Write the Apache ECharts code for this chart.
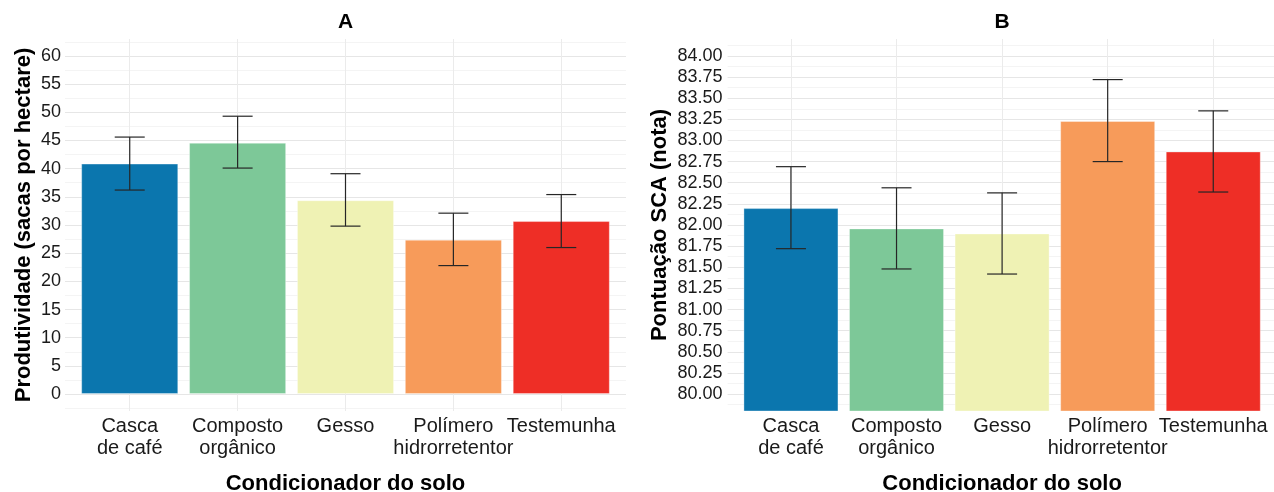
<!DOCTYPE html>
<html>
<head>
<meta charset="utf-8">
<script src="https://cdn.jsdelivr.net/npm/echarts@6/dist/echarts.min.js"></script>
<style>
  html, body { margin: 0; padding: 0; background: #ffffff; }
  #chart { width: 1274px; height: 492px; }
</style>
</head>
<body>
<div id="chart"></div>
<script>
// Soil conditioner treatments (x categories)
const categories = ['Casca\nde café', 'Composto\norgânico', 'Gesso', 'Polímero\nhidrorretentor', 'Testemunha'];
const barColors = ['#0b76ae', '#7dc898', '#eff2b4', '#f79b5a', '#ee2e26'];

// Panel A: yield (sacas por hectare), mean and error-bar limits
const yieldMean = [40.9, 44.6, 34.4, 27.4, 30.7];
const yieldLow  = [36.2, 40.1, 29.8, 22.8, 26.0];
const yieldHigh = [45.6, 49.3, 39.1, 32.1, 35.4];
const yieldTicks = [0, 5, 10, 15, 20, 25, 30, 35, 40, 45, 50, 55, 60];

// Panel B: SCA cup score, mean and error-bar limits
const scaMean = [82.2, 81.96, 81.9, 83.23, 82.87];
const scaLow  = [81.72, 81.48, 81.42, 82.75, 82.39];
const scaHigh = [82.69, 82.44, 82.38, 83.72, 83.35];
const scaTicks = [80, 80.25, 80.5, 80.75, 81, 81.25, 81.5, 81.75, 82, 82.25, 82.5, 82.75, 83, 83.25, 83.5, 83.75, 84];

const FONT = '"Liberation Sans", Arial, sans-serif';
const catPositions = categories.map((c, i) => i + 1);
// Category labels are split over two stacked axes so that the slightly
// overlapping neighbours ("hidrorretentor" / "Testemunha") are both kept.
const oddPositions = catPositions.filter(p => p % 2 === 1);
const evenPositions = catPositions.filter(p => p % 2 === 0);

// Major + minor gridline positions (minor halfway between labelled ticks)
function withMinor(ticks) {
  const step = ticks[1] - ticks[0];
  const out = [];
  ticks.forEach(t => { out.push(t - step / 2, t); });
  out.push(ticks[ticks.length - 1] + step / 2);
  return out;
}

function errorBarItem(params, api) {
  const x = api.value(0);
  const lo = api.coord([x, api.value(1)]);
  const hi = api.coord([x, api.value(2)]);
  const half = 15;
  const style = { stroke: '#262626', lineWidth: 1.2 };
  return {
    type: 'group',
    children: [
      { type: 'line', shape: { x1: lo[0], y1: hi[1], x2: lo[0], y2: lo[1] }, style },
      { type: 'line', shape: { x1: lo[0] - half, y1: hi[1], x2: lo[0] + half, y2: hi[1] }, style },
      { type: 'line', shape: { x1: lo[0] - half, y1: lo[1], x2: lo[0] + half, y2: lo[1] }, style }
    ]
  };
}

const catLabelStyle = {
  margin: 4, hideOverlap: false, showMinLabel: true, showMaxLabel: true,
  fontFamily: FONT, fontSize: 20, color: '#1a1a1a', lineHeight: 22,
  formatter: v => categories[Math.round(v) - 1]
};

function xAxisFor(gridIndex) {
  return {
    type: 'value', gridIndex, min: 0.4, max: 5.6, position: 'bottom',
    name: 'Condicionador do solo', nameLocation: 'middle', nameGap: 62,
    nameTextStyle: { fontFamily: FONT, fontWeight: 'bold', fontSize: 22, color: '#000' },
    axisLine: { show: false },
    axisTick: { show: false, customValues: catPositions },
    axisLabel: Object.assign({ customValues: oddPositions }, catLabelStyle),
    splitLine: { show: true, lineStyle: { color: '#ebebeb', width: 1 } }
  };
}

function xAxisAuxFor(gridIndex) {
  return {
    type: 'value', gridIndex, min: 0.4, max: 5.6, position: 'bottom', offset: 0,
    axisLine: { show: false },
    axisTick: { show: false, customValues: evenPositions },
    axisLabel: Object.assign({ customValues: evenPositions }, catLabelStyle),
    splitLine: { show: false }
  };
}

function yAxisFor(gridIndex, min, max, ticks, name, nameGap, margin, fmt) {
  return {
    type: 'value', gridIndex, min, max,
    name, nameLocation: 'middle', nameGap,
    nameTextStyle: { fontFamily: FONT, fontWeight: 'bold', fontSize: 22, color: '#000' },
    axisLine: { show: false },
    axisTick: { show: false, customValues: withMinor(ticks) },
    axisLabel: {
      customValues: ticks, margin, hideOverlap: false,
      showMinLabel: true, showMaxLabel: true,
      fontFamily: FONT, fontSize: 18, color: '#1a1a1a', formatter: fmt
    },
    splitLine: { show: true, lineStyle: { color: ['#f4f4f4', '#e6e6e6'], width: 1 } }
  };
}

function barSeries(idx, means) {
  return {
    type: 'bar', xAxisIndex: idx, yAxisIndex: idx, barWidth: '90%', z: 2,
    data: means.map((v, i) => ({
      value: [i + 1, v],
      itemStyle: { color: barColors[i], borderColor: 'rgba(255,255,255,0.35)', borderWidth: 1 }
    }))
  };
}

function errorSeries(idx, low, high) {
  return {
    type: 'custom', xAxisIndex: idx, yAxisIndex: idx, z: 3,
    renderItem: errorBarItem,
    encode: { x: 0, y: [1, 2] },
    data: low.map((l, i) => [i + 1, l, high[i]])
  };
}

const chart = echarts.init(document.getElementById('chart'), null, { renderer: 'canvas' });
chart.setOption({
  backgroundColor: '#ffffff',
  animation: false,
  grid: [
    { left: 65, top: 39, width: 561, height: 372, outerBoundsMode: 'none', containLabel: false },
    { left: 727.6, top: 39, width: 549, height: 372, outerBoundsMode: 'none', containLabel: false }
  ],
  xAxis: [xAxisFor(0), xAxisFor(1), xAxisAuxFor(0), xAxisAuxFor(1)],
  yAxis: [
    yAxisFor(0, -3, 63, yieldTicks, 'Produtividade (sacas por hectare)', 30, 4, v => String(v)),
    yAxisFor(1, 79.8, 84.2, scaTicks, 'Pontuação SCA (nota)', 57, 5, v => v.toFixed(2))
  ],
  graphic: [
    { type: 'text', x: 345.5, y: 22, style: { text: 'A', align: 'center', verticalAlign: 'middle', font: 'bold 21px ' + FONT, fill: '#000' } },
    { type: 'text', x: 1002, y: 22, style: { text: 'B', align: 'center', verticalAlign: 'middle', font: 'bold 21px ' + FONT, fill: '#000' } }
  ],
  series: [
    barSeries(0, yieldMean),
    errorSeries(0, yieldLow, yieldHigh),
    barSeries(1, scaMean),
    errorSeries(1, scaLow, scaHigh)
  ]
});
</script>
</body>
</html>
